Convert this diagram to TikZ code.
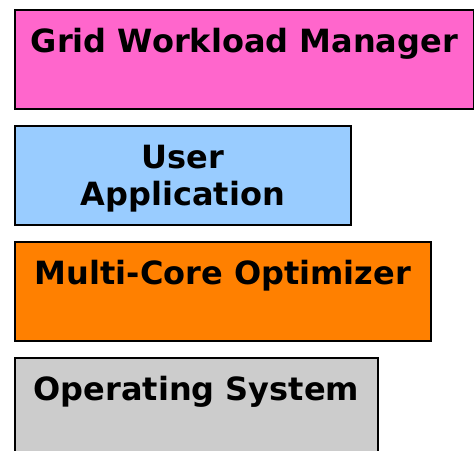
\documentclass[tikz,border=0pt]{standalone}
\usepackage{fontspec}
\setmainfont{DejaVu Sans}
\usepackage{tikz}
\usetikzlibrary{positioning}
\definecolor{gridpink}{HTML}{FF66CC}
\definecolor{appblue}{HTML}{99CCFF}
\definecolor{coreorange}{HTML}{FF8000}
\definecolor{osgray}{HTML}{CCCCCC}

\begin{document}
\begin{tikzpicture}[x=1pt,y=-1pt]
    \tikzset{layer/.style = {shape=rectangle,draw,line width=1.8pt,anchor=north west,minimum height=99pt,inner sep=0pt}}
    \tikzset{caption/.style = {anchor=base,align=center,inner sep=0pt,font=\bfseries\fontsize{32}{37}\selectfont}}
    \clip (0,0) rectangle (474,450);
    % layers
    \node[layer,fill=gridpink,minimum width=459pt] (grid) at (14,9) {};
    \node[layer,fill=appblue,minimum width=336pt] (app) at (14,125) {};
    \node[layer,fill=coreorange,minimum width=416pt] (core) at (14,241) {};
    \node[layer,fill=osgray,minimum width=363pt] (os) at (14,357) {};
    % captions
    \node[caption] (gridtext) at ([yshift=-43pt]grid.north) {Grid Workload Manager};
    \node[caption] (apptext) at ([yshift=-80pt]app.north) {User\\Application};
    \node[caption] (coretext) at ([yshift=-43pt]core.north) {Multi-Core Optimizer};
    \node[caption] (ostext) at ([yshift=-43pt]os.north) {Operating System};
\end{tikzpicture}
\end{document}
